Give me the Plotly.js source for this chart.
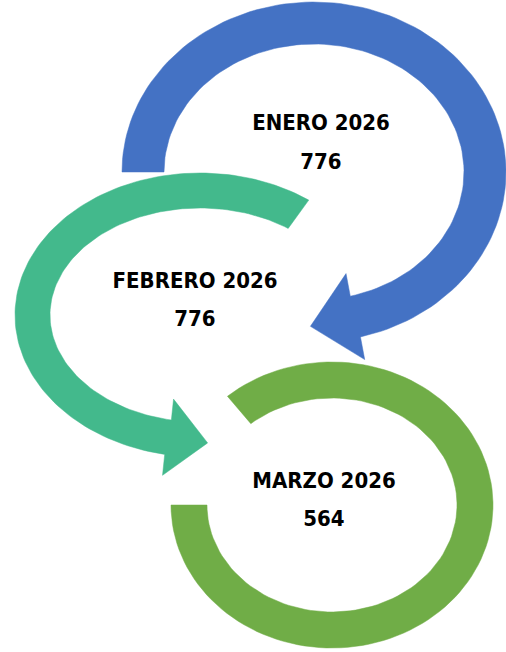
<!DOCTYPE html>
<html>
<head>
<meta charset="utf-8">
<script src="https://cdn.plot.ly/plotly-3.0.1.min.js"></script>
<style>html,body{margin:0;padding:0;background:#fff;}#chart{width:506px;height:652px;}</style>
</head>
<body>
<div id="chart"></div>
<script>
// Data
const months = ["ENERO 2026", "FEBRERO 2026", "MARZO 2026"];
const values = [776, 776, 564];
const colors = ["#4472C4", "#43B98C", "#70AD47"];

// Geometry (layout only)
const arcs = [
  {cx: 314, cy: 172, a: 171, b: 149, th: 42, t0: 180, t1: 436, hw: 44, len: 46},
  {cx: 200, cy: 315, a: 167.5, b: 124.5, th: 35, t0: -54, t1: -259, hw: 38.5, len: 40},
  {cx: 332, cy: 505, a: 143, b: 125, th: 36, t0: 229.5, t1: 540, hw: 0, len: 0}
];
const labelPos = [
  {x: 321, y: 124, vy: 163},
  {x: 195, y: 282, vy: 320},
  {x: 324, y: 482, vy: 520}
];

function arcPolygon(g) {
  const rad = Math.PI / 180;
  const n = 120;
  const xs = [], ys = [];
  const ao = g.a + g.th / 2, bo = g.b + g.th / 2;
  const ai = g.a - g.th / 2, bi = g.b - g.th / 2;
  for (let i = 0; i <= n; i++) {
    const t = (g.t0 + (g.t1 - g.t0) * i / n) * rad;
    xs.push(g.cx + ao * Math.cos(t));
    ys.push(g.cy + bo * Math.sin(t));
  }
  if (g.hw > 0) {
    const t = g.t1 * rad;
    const dir = Math.sign(g.t1 - g.t0);
    const px = g.cx + g.a * Math.cos(t), py = g.cy + g.b * Math.sin(t);
    let tx = -g.a * Math.sin(t) * dir, ty = g.b * Math.cos(t) * dir;
    const tl = Math.hypot(tx, ty); tx /= tl; ty /= tl;
    let nx = -ty, ny = tx;
    if (nx * (px - g.cx) + ny * (py - g.cy) < 0) { nx = -nx; ny = -ny; }
    xs.push(px + nx * g.hw); ys.push(py + ny * g.hw);
    xs.push(px + tx * g.len); ys.push(py + ty * g.len);
    xs.push(px - nx * g.hw); ys.push(py - ny * g.hw);
  }
  for (let i = n; i >= 0; i--) {
    const t = (g.t0 + (g.t1 - g.t0) * i / n) * rad;
    xs.push(g.cx + ai * Math.cos(t));
    ys.push(g.cy + bi * Math.sin(t));
  }
  xs.push(xs[0]); ys.push(ys[0]);
  return {xs, ys};
}

const traces = [];
const order = [2, 1, 0];
order.forEach(i => {
  const p = arcPolygon(arcs[i]);
  traces.push({
    type: "scatter", mode: "lines", x: p.xs, y: p.ys,
    fill: "toself", fillcolor: colors[i],
    line: {color: colors[i], width: 0.5},
    hoverinfo: "skip", showlegend: false
  });
});

const font = {family: "'DejaVu Sans Condensed', 'Liberation Sans', sans-serif", size: 22, color: "#000"};
traces.push({
  type: "scatter", mode: "text",
  x: labelPos.map(p => p.x), y: labelPos.map(p => p.y),
  text: months.map(m => "<b>" + m + "</b>"),
  textfont: font, textposition: "middle center",
  hoverinfo: "skip", showlegend: false
});
traces.push({
  type: "scatter", mode: "text",
  x: labelPos.map(p => p.x), y: labelPos.map(p => p.vy),
  text: values.map(v => "<b>" + v + "</b>"),
  textfont: font, textposition: "middle center",
  hoverinfo: "skip", showlegend: false
});

const layout = {
  width: 506, height: 652,
  margin: {l: 0, r: 0, t: 0, b: 0, pad: 0},
  paper_bgcolor: "#ffffff", plot_bgcolor: "#ffffff",
  xaxis: {range: [0, 506], visible: false, fixedrange: true},
  yaxis: {range: [652, 0], visible: false, fixedrange: true},
  showlegend: false
};

Plotly.newPlot("chart", traces, layout, {displayModeBar: false, staticPlot: true});
</script>
</body>
</html>
